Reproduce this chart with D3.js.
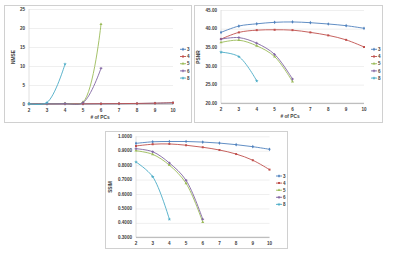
<!DOCTYPE html>
<html>
<head>
<meta charset="utf-8">
<script src="https://cdn.jsdelivr.net/npm/d3@7"></script>
<style>
  body { margin: 0; background: #fff; }
  svg text { font-family: "Liberation Sans", Arial, sans-serif; font-weight: bold; fill: #404040; }
  .grid line { stroke: #e4e4e4; stroke-width: 0.6; }
  .grid path { stroke: none; }
</style>
</head>
<body>
<svg id="chart" width="400" height="255"></svg>
<script>
// data
const pcs = [2, 3, 4, 5, 6, 7, 8, 9, 10];
const seriesNames = ["3", "4", "5", "6", "8"];
const colors = ["#4F81BD", "#C0504D", "#9BBB59", "#8064A2", "#4BACC6"];
const markers = [d3.symbolDiamond, d3.symbolSquare, d3.symbolTriangle, d3.symbolCross, d3.symbolStar];

const nmse3 = [0.01, 0.01, 0.02, 0.03, 0.05, 0.08, 0.12, 0.2, 0.3];
const nmse4 = [0.02, 0.03, 0.04, 0.05, 0.08, 0.1, 0.15, 0.22, 0.35];
const nmse5 = [0.05, 0.08, 0.15, 0.5, 21.0];
const nmse6 = [0.04, 0.06, 0.1, 0.35, 9.4];
const nmse8 = [0.05, 0.4, 10.5];
const nmseTicks = [0, 5, 10, 15, 20, 25];

const psnr3 = [39.0, 40.7, 41.3, 41.7, 41.8, 41.6, 41.25, 40.8, 40.1];
const psnr4 = [37.2, 39.0, 39.6, 39.7, 39.6, 39.0, 38.2, 37.0, 35.1];
const psnr5 = [36.3, 36.9, 35.4, 32.5, 25.8];
const psnr6 = [37.2, 37.6, 36.1, 33.1, 26.5];
const psnr8 = [33.7, 32.5, 26.0];
const psnrTicks = [20, 25, 30, 35, 40, 45];

const ssim3 = [0.951, 0.962, 0.964, 0.964, 0.960, 0.953, 0.942, 0.928, 0.910];
const ssim4 = [0.933, 0.945, 0.947, 0.938, 0.924, 0.905, 0.877, 0.834, 0.769];
const ssim5 = [0.900, 0.875, 0.800, 0.674, 0.405];
const ssim6 = [0.914, 0.893, 0.815, 0.695, 0.425];
const ssim8 = [0.822, 0.720, 0.425];
const ssimTicks = [0.3, 0.4, 0.5, 0.6, 0.7, 0.8, 0.9, 1.0];

const svg = d3.select("#chart");

// one excel-like panel
function drawPanel(p) {
  const g = svg.append("g");

  g.append("rect")
    .attr("x", p.box[0] + 0.5).attr("y", p.box[1] + 0.5)
    .attr("width", p.box[2] - p.box[0]).attr("height", p.box[3] - p.box[1])
    .attr("fill", "#fff").attr("stroke", "#d0d0d0").attr("stroke-width", 1);

  const x = d3.scaleLinear().domain([2, 10]).range([p.plot[0], p.plot[1]]);
  const y = d3.scaleLinear().domain([p.ticks[0], p.ticks[p.ticks.length - 1]]).range([p.plot[3], p.plot[2]]);

  // gridlines
  g.append("g")
    .attr("class", "grid")
    .attr("transform", `translate(${p.plot[0]},0)`)
    .call(d3.axisLeft(y).tickValues(p.ticks).tickSize(-(p.plot[1] - p.plot[0])).tickFormat(""));

  // axis lines
  g.append("line")
    .attr("x1", p.plot[0]).attr("x2", p.plot[0])
    .attr("y1", p.plot[2]).attr("y2", p.plot[3])
    .attr("stroke", "#d8d8d8").attr("stroke-width", 0.8);
  g.append("line")
    .attr("x1", p.plot[0]).attr("x2", p.plot[1])
    .attr("y1", y(p.ticks[0])).attr("y2", y(p.ticks[0]))
    .attr("stroke", "#a0a0a0").attr("stroke-width", 0.8);

  // tick labels
  g.selectAll(".ylab").data(p.ticks).enter().append("text")
    .attr("x", p.plot[0] - 4)
    .attr("y", d => y(d))
    .attr("dy", "0.35em")
    .attr("text-anchor", "end")
    .attr("font-size", 4.6)
    .text(d => d3.format(p.fmt)(d));

  g.selectAll(".xlab").data(pcs).enter().append("text")
    .attr("x", d => x(d))
    .attr("y", p.xlabY)
    .attr("text-anchor", "middle")
    .attr("font-size", 4.6)
    .text(d => d);

  // titles
  g.append("text")
    .attr("transform", `translate(${p.ytitle[0]},${p.ytitle[1]}) rotate(-90)`)
    .attr("text-anchor", "middle")
    .attr("font-size", 4.8)
    .text(p.ylabel);
  if (p.xtitle) {
    g.append("text")
      .attr("x", p.xtitle[0]).attr("y", p.xtitle[1])
      .attr("text-anchor", "middle")
      .attr("font-size", 4.8)
      .text("# of PCs");
  }

  // series
  const line = d3.line()
    .x((d, i) => x(pcs[i]))
    .y(d => y(d))
    .curve(d3.curveCatmullRom.alpha(0.5));

  p.series.forEach((vals, k) => {
    g.append("path")
      .attr("d", line(vals))
      .attr("fill", "none")
      .attr("stroke", colors[k])
      .attr("stroke-width", 0.9);
    g.selectAll(".m" + k).data(vals).enter().append("path")
      .attr("transform", (d, i) => `translate(${x(pcs[i])},${y(d)})`)
      .attr("d", d3.symbol().type(markers[k]).size(4))
      .attr("fill", colors[k]);
  });

  // legend
  seriesNames.forEach((name, k) => {
    const ly = p.legend[1] + k * p.legend[2];
    g.append("line")
      .attr("x1", p.legend[0]).attr("x2", p.legend[0] + 6)
      .attr("y1", ly).attr("y2", ly)
      .attr("stroke", colors[k]).attr("stroke-width", 0.9);
    g.append("path")
      .attr("transform", `translate(${p.legend[0] + 3},${ly})`)
      .attr("d", d3.symbol().type(markers[k]).size(4))
      .attr("fill", colors[k]);
    g.append("text")
      .attr("x", p.legend[0] + 7)
      .attr("y", ly)
      .attr("dy", "0.35em")
      .attr("font-size", 4.6)
      .text(name);
  });
}

drawPanel({
  box: [4, 5, 191, 122],
  plot: [29, 173, 9, 104],
  ticks: nmseTicks,
  fmt: "d",
  xlabY: 112,
  ylabel: "NMSE",
  ytitle: [15, 57],
  xtitle: [100, 119],
  legend: [180, 49.3, 7.2],
  series: [nmse3, nmse4, nmse5, nmse6, nmse8]
});

drawPanel({
  box: [194, 5, 382, 122],
  plot: [221, 364, 10, 103.3],
  ticks: psnrTicks,
  fmt: ".2f",
  xlabY: 111,
  ylabel: "PSNR",
  ytitle: [200, 57],
  xtitle: [290, 118],
  legend: [371, 49.3, 7.2],
  series: [psnr3, psnr4, psnr5, psnr6, psnr8]
});

drawPanel({
  box: [105, 131, 287, 248],
  plot: [136, 269.5, 136.3, 237.3],
  ticks: ssimTicks,
  fmt: ".4f",
  xlabY: 245,
  ylabel: "SSIM",
  ytitle: [112, 187],
  xtitle: null,
  legend: [276, 176, 7.1],
  series: [ssim3, ssim4, ssim5, ssim6, ssim8]
});
</script>
</body>
</html>
